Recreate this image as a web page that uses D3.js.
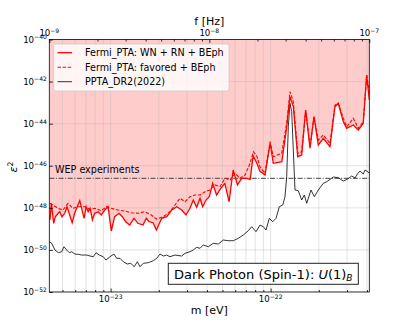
<!DOCTYPE html>
<html><head><meta charset="utf-8">
<script src="https://cdn.jsdelivr.net/npm/d3@7"></script>
<style>body{margin:0;background:#fff} svg{display:block} text{font-family:"DejaVu Sans",sans-serif}</style>
</head><body><svg id="c" width="411" height="329"></svg>
<script>
// ---- data (frequency in nHz, epsilon^2) ----
const wnFreqNHz = [1.01,1.03,1.065,1.09,1.16,1.20,1.25,1.29,1.39,1.44,1.55,1.65,1.70,1.75,1.80,1.86,1.92,2.02,2.11,2.22,2.33,2.44,2.56,2.73,2.86,3.00,3.18,3.38,3.58,3.85,4.04,4.20,4.45,4.67,5.04,5.42,5.82,6.26,6.72,7.15,7.57,7.94,8.34,8.75,9.09,9.54,10.0,10.5,11.1,11.8,12.5,13.3,14.1,15.0,15.9,17.1,18.0,18.8,19.8,20.7,22.3,24.0,25.1,28.4,30.5,31.9,33.5,35.7,37.8,40.0,42.6,45.1,48.0,51.6,56.8,61.0,64.0,68.8,72.2,79.4,85.4,91.7,96.3,100];
const wnEps2 = [2.64e-49,1.64e-48,1.84e-49,3.78e-49,6.55e-49,3.78e-49,5.50e-49,1.13e-48,1.96e-49,5.50e-49,2.18e-48,3.18e-49,1.13e-48,6.55e-49,9.48e-49,2.64e-49,5.50e-49,6.55e-49,4.56e-49,7.87e-49,1.13e-48,7.91e-50,3.78e-49,5.50e-49,3.78e-49,2.19e-49,1.52e-49,3.18e-49,1.84e-49,1.52e-49,3.18e-49,2.19e-49,1.96e-49,8.83e-50,3.18e-49,3.78e-49,7.87e-49,1.13e-48,7.87e-49,4.56e-49,9.48e-49,2.35e-48,1.06e-48,2.83e-48,1.13e-48,2.35e-48,3.38e-48,1.46e-47,4.06e-48,8.47e-48,1.46e-47,1.95e-48,6.28e-47,1.22e-47,2.53e-47,2.53e-47,2.26e-47,2.90e-46,1.35e-46,5.62e-47,3.63e-47,1.17e-45,1.31e-46,1.56e-46,7.18e-45,1.91e-43,6.40e-44,2.69e-46,3.24e-46,4.46e-44,6.75e-46,2.14e-44,9.68e-46,2.01e-45,8.04e-46,6.40e-44,9.29e-44,1.24e-44,6.01e-45,8.63e-45,5.0e-45,1.04e-44,2.06e-42,1.33e-43];

const favFreqNHz = [1.006,1.055,1.133,1.218,1.309,1.406,1.512,1.664,1.789,1.921,2.113,2.271,2.44,2.688,2.96,3.254,3.584,3.947,4.341,4.665,5.16,5.68,6.10,6.56,7.05,7.57,8.14,8.75,9.40,10.10,10.85,11.67,12.53,13.47,14.48,15.56,16.72,17.97,18.84,19.8,20.74,22.29,23.96,25.12,28.35,30.46,31.95,33.50,35.69,37.80,40.05,42.60,45.12,48.02,51.58,56.81,61.05,64.02,68.79,72.24,79.43,85.37,91.73,96.34,100];
const favEps2 = [1.64e-48,1.36e-48,9.48e-49,7.87e-49,1.64e-48,9.48e-49,1.13e-48,1.13e-48,8.51e-49,9.48e-49,7.30e-49,1.13e-48,9.48e-49,7.87e-49,7.06e-49,5.86e-49,5.50e-49,6.55e-49,4.56e-49,2.94e-49,3.78e-49,6.55e-49,1.36e-48,2.83e-48,1.95e-48,3.38e-48,4.06e-48,4.06e-48,5.83e-48,7.03e-48,1.22e-47,1.01e-47,2.53e-47,2.10e-47,4.38e-47,2.53e-47,3.63e-47,1.31e-46,4.65e-46,2.90e-46,9.0e-47,4.38e-47,1.39e-45,2.69e-46,3.90e-46,1.04e-44,3.30e-43,1.11e-43,3.90e-46,4.65e-46,4.46e-44,8.04e-46,2.14e-44,1.67e-45,2.89e-45,1.17e-45,7.71e-44,9.29e-44,1.80e-44,7.18e-45,1.80e-44,6.01e-45,1.24e-44,2.06e-42,2.77e-43];

const pptaFreqNHz = [1.00,1.035,1.085,1.14,1.195,1.235,1.285,1.334,1.38,1.447,1.518,1.594,1.713,1.797,1.884,1.958,2.054,2.175,2.261,2.395,2.537,2.638,2.766,2.901,3.073,3.227,3.399,3.548,3.689,3.868,4.157,4.467,4.69,4.92,5.16,5.42,5.68,6.10,6.72,7.05,7.57,7.94,8.34,8.75,9.17,9.86,10.59,11.38,12.23,13.15,14.13,15.18,16.31,17.53,18.41,19.58,20.74,21.76,22.62,23.71,24.91,26.12,27.38,28.76,29.73,30.46,31.18,31.95,32.73,33.50,34.33,36.00,37.80,39.25,40.63,43.22,45.33,48.02,51.58,54.17,59.57,64.02,68.79,73.28,77.62,81.39,84.14,87.48,91.73,93.99,96.34,100];
const pptaEps2 = [2.45e-50,2.06e-50,9.89e-51,7.36e-51,8.20e-51,1.42e-50,9.89e-51,7.36e-51,8.20e-51,6.38e-51,6.18e-51,5.71e-51,5.71e-51,5.13e-51,4.75e-51,7.36e-51,5.71e-51,4.75e-51,3.31e-51,4.75e-51,6.38e-51,3.99e-51,3.99e-51,2.75e-51,2.14e-51,2.31e-51,1.59e-51,2.75e-51,1.59e-51,2.31e-51,2.47e-51,3.07e-51,3.99e-51,6.38e-51,5.13e-51,5.71e-51,4.75e-51,5.71e-51,5.13e-51,6.89e-51,8.20e-51,9.89e-51,1.33e-50,1.19e-50,1.71e-50,1.42e-50,2.06e-50,1.91e-50,2.95e-50,2.74e-50,2.74e-50,3.56e-50,5.11e-50,8.18e-50,1.27e-49,7.33e-50,1.52e-49,1.27e-49,8.83e-50,3.18e-49,2.19e-49,3.18e-49,1.13e-48,1.36e-48,3.38e-48,3.01e-47,7.18e-45,9.29e-44,3.70e-44,5.60e-46,7.03e-48,6.52e-48,2.35e-48,4.06e-48,1.64e-48,7.03e-48,3.38e-48,7.03e-48,1.46e-47,1.74e-47,2.92e-47,2.70e-47,1.88e-47,2.34e-47,3.25e-47,2.61e-47,4.05e-47,5.62e-47,4.05e-47,6.28e-47,5.62e-47,4.52e-47];

const wepLimit = 2.53e-47;
const yTickExps = [-52,-50,-48,-46,-44,-42,-40];
const fTickExps = [-9,-8,-7];
const mTickExps = [-23,-22];
const legendLabels = ["Fermi_PTA: WN + RN + BEph","Fermi_PTA: favored + BEph","PPTA_DR2(2022)"];

// ---- layout ----
const hPlanck = 4.135667e-15; // eV s
const P = {l:49.3, r:369.3, t:39.5, b:292};
const svg = d3.select("#c");
const x = d3.scaleLog().domain([1e-9,1e-7]).range([P.l,P.r]);
const xm = d3.scaleLog().domain([hPlanck*1e-9,hPlanck*1e-7]).range([P.l,P.r]);
const y = d3.scaleLog().domain([1e-52,1e-40]).range([P.b,P.t]);

const toPts = (fs,vs)=>fs.map((f,i)=>({f:f*1e-9,v:vs[i]}));
const wn = toPts(wnFreqNHz,wnEps2), fav = toPts(favFreqNHz,favEps2), ppta = toPts(pptaFreqNHz,pptaEps2);

svg.append("defs").append("clipPath").attr("id","clip").append("rect")
  .attr("x",P.l).attr("y",P.t).attr("width",P.r-P.l).attr("height",P.b-P.t);

// minor tick lists
function logTicks(s){ const [a,b]=s.domain(); const out=[];
  for(let e=Math.floor(Math.log10(a));e<=Math.ceil(Math.log10(b));e++)
    for(let k=1;k<=9;k++){const v=k*Math.pow(10,e); if(v>=a*0.9999&&v<=b*1.0001) out.push({v,major:k===1});}
  return out;}
const mAll = logTicks(xm), fAll = logTicks(x);

const g = svg.append("g").attr("clip-path","url(#clip)");
// fill
g.append("path").datum(wn)
  .attr("d", d3.area().x(d=>x(d.f)).y0(P.t).y1(d=>y(d.v)))
  .attr("fill","rgb(255,0,0)").attr("fill-opacity",0.2);
// grid
g.selectAll(".vg").data(mAll).join("line")
  .attr("x1",d=>xm(d.v)).attr("x2",d=>xm(d.v)).attr("y1",P.t).attr("y2",P.b)
  .attr("stroke","#b0b0b0").attr("stroke-opacity",0.45).attr("stroke-width",0.8);
g.selectAll(".hg").data(yTickExps).join("line")
  .attr("x1",P.l).attr("x2",P.r).attr("y1",d=>y(Math.pow(10,d))).attr("y2",d=>y(Math.pow(10,d)))
  .attr("stroke","#b0b0b0").attr("stroke-opacity",0.45).attr("stroke-width",0.8);
// WEP line
g.append("line").attr("x1",P.l).attr("x2",P.r).attr("y1",y(wepLimit)).attr("y2",y(wepLimit))
  .attr("stroke","#444").attr("stroke-width",1).attr("stroke-dasharray","5,1.6,1,1.6");
// curves
const line = d3.line().x(d=>x(d.f)).y(d=>y(d.v));
g.append("path").datum(ppta).attr("d",line).attr("fill","none").attr("stroke","#000").attr("stroke-width",0.8);
g.append("path").datum(fav).attr("d",line).attr("fill","none").attr("stroke","red").attr("stroke-width",1.1).attr("stroke-dasharray","3.5,1.6");
g.append("path").datum(wn).attr("d",line).attr("fill","none").attr("stroke","red").attr("stroke-width",1.3);

// spines
svg.append("rect").attr("x",P.l).attr("y",P.t).attr("width",P.r-P.l).attr("height",P.b-P.t)
  .attr("fill","none").attr("stroke","#000").attr("stroke-width",0.8);

// axes ticks (inward)
const ax = svg.append("g");
ax.append("g").attr("transform",`translate(0,${P.b})`)
  .call(d3.axisBottom(xm).tickValues(mAll.filter(d=>d.major).map(d=>d.v)).tickSize(-3.5).tickFormat(""))
  .call(s=>s.select(".domain").remove());
ax.append("g").attr("transform",`translate(0,${P.b})`)
  .call(d3.axisBottom(xm).tickValues(mAll.filter(d=>!d.major).map(d=>d.v)).tickSize(-2).tickFormat(""))
  .call(s=>s.select(".domain").remove());
ax.append("g").attr("transform",`translate(0,${P.t})`)
  .call(d3.axisTop(x).tickValues(fAll.filter(d=>d.major).map(d=>d.v)).tickSize(-3.5).tickFormat(""))
  .call(s=>s.select(".domain").remove());
ax.append("g").attr("transform",`translate(0,${P.t})`)
  .call(d3.axisTop(x).tickValues(fAll.filter(d=>!d.major).map(d=>d.v)).tickSize(-2).tickFormat(""))
  .call(s=>s.select(".domain").remove());
ax.append("g").attr("transform",`translate(${P.l},0)`)
  .call(d3.axisLeft(y).tickValues(yTickExps.map(e=>Math.pow(10,e))).tickSize(-3.5).tickFormat(""))
  .call(s=>s.select(".domain").remove());
ax.selectAll(".tick line").attr("stroke","#000").attr("stroke-width",0.8);

function powLabel(sel, exp){
  sel.append("tspan").text("10");
  sel.append("tspan").attr("font-size","0.7em").attr("dy","-0.55em").text("\u2212"+Math.abs(exp));
}
const tickFont = 8.6;
yTickExps.forEach(e=>{
  const t = svg.append("text").attr("x",P.l-2.5).attr("y",y(Math.pow(10,e))+3.2)
    .attr("text-anchor","end").attr("font-size",tickFont).attr("fill","#000");
  powLabel(t,e);
});
fTickExps.forEach(e=>{
  const t = svg.append("text").attr("x",x(Math.pow(10,e))).attr("y",36)
    .attr("text-anchor","middle").attr("font-size",tickFont).attr("fill","#000");
  powLabel(t,e);
});
mTickExps.forEach(e=>{
  const t = svg.append("text").attr("x",xm(Math.pow(10,e))).attr("y",302)
    .attr("text-anchor","middle").attr("font-size",tickFont).attr("fill","#000");
  powLabel(t,e);
});

// axis labels
svg.append("text").attr("x",(P.l+P.r)/2).attr("y",25).attr("text-anchor","middle").attr("font-size",11).text("f [Hz]");
svg.append("text").attr("x",(P.l+P.r)/2).attr("y",314).attr("text-anchor","middle").attr("font-size",11).text("m [eV]");
const yl = svg.append("text").attr("transform",`translate(17,167) rotate(-90)`).attr("text-anchor","middle").attr("font-size",11);
yl.append("tspan").attr("font-style","italic").text("\u03b5");
yl.append("tspan").attr("font-size","0.7em").attr("dy","-0.5em").text("2");

// WEP label
svg.append("text").attr("x",55).attr("y",172.5).attr("font-size",9.6).text("WEP experiments");

// legend
const lg = svg.append("g");
lg.append("rect").attr("x",53.5).attr("y",44).attr("width",175.5).attr("height",47).attr("rx",2)
  .attr("fill","#fff").attr("fill-opacity",0.8).attr("stroke","#ccc").attr("stroke-width",0.8);
const lstyles = [{c:"red",w:1.3,d:null},{c:"red",w:1.1,d:"3.5,1.6"},{c:"#000",w:0.8,d:null}];
legendLabels.forEach((lab,i)=>{
  const yy = 52.7 + i*14.5;
  const l = lg.append("line").attr("x1",57.5).attr("x2",72).attr("y1",yy).attr("y2",yy)
    .attr("stroke",lstyles[i].c).attr("stroke-width",lstyles[i].w);
  if(lstyles[i].d) l.attr("stroke-dasharray",lstyles[i].d);
  lg.append("text").attr("x",85).attr("y",yy+3.4).attr("font-size",9.6).text(lab);
});

// annotation box
svg.append("rect").attr("x",168.3).attr("y",263.3).attr("width",190).attr("height",21)
  .attr("fill","#fff").attr("stroke","#222").attr("stroke-width",1);
const at = svg.append("text").attr("x",263.3).attr("y",278.5).attr("text-anchor","middle").attr("font-size",13);
at.append("tspan").text("Dark Photon (Spin-1): ");
at.append("tspan").attr("font-style","italic").text("U");
at.append("tspan").text("(1)");
at.append("tspan").attr("font-style","italic").attr("font-size","0.7em").attr("dy","0.3em").text("B");
</script></body></html>
